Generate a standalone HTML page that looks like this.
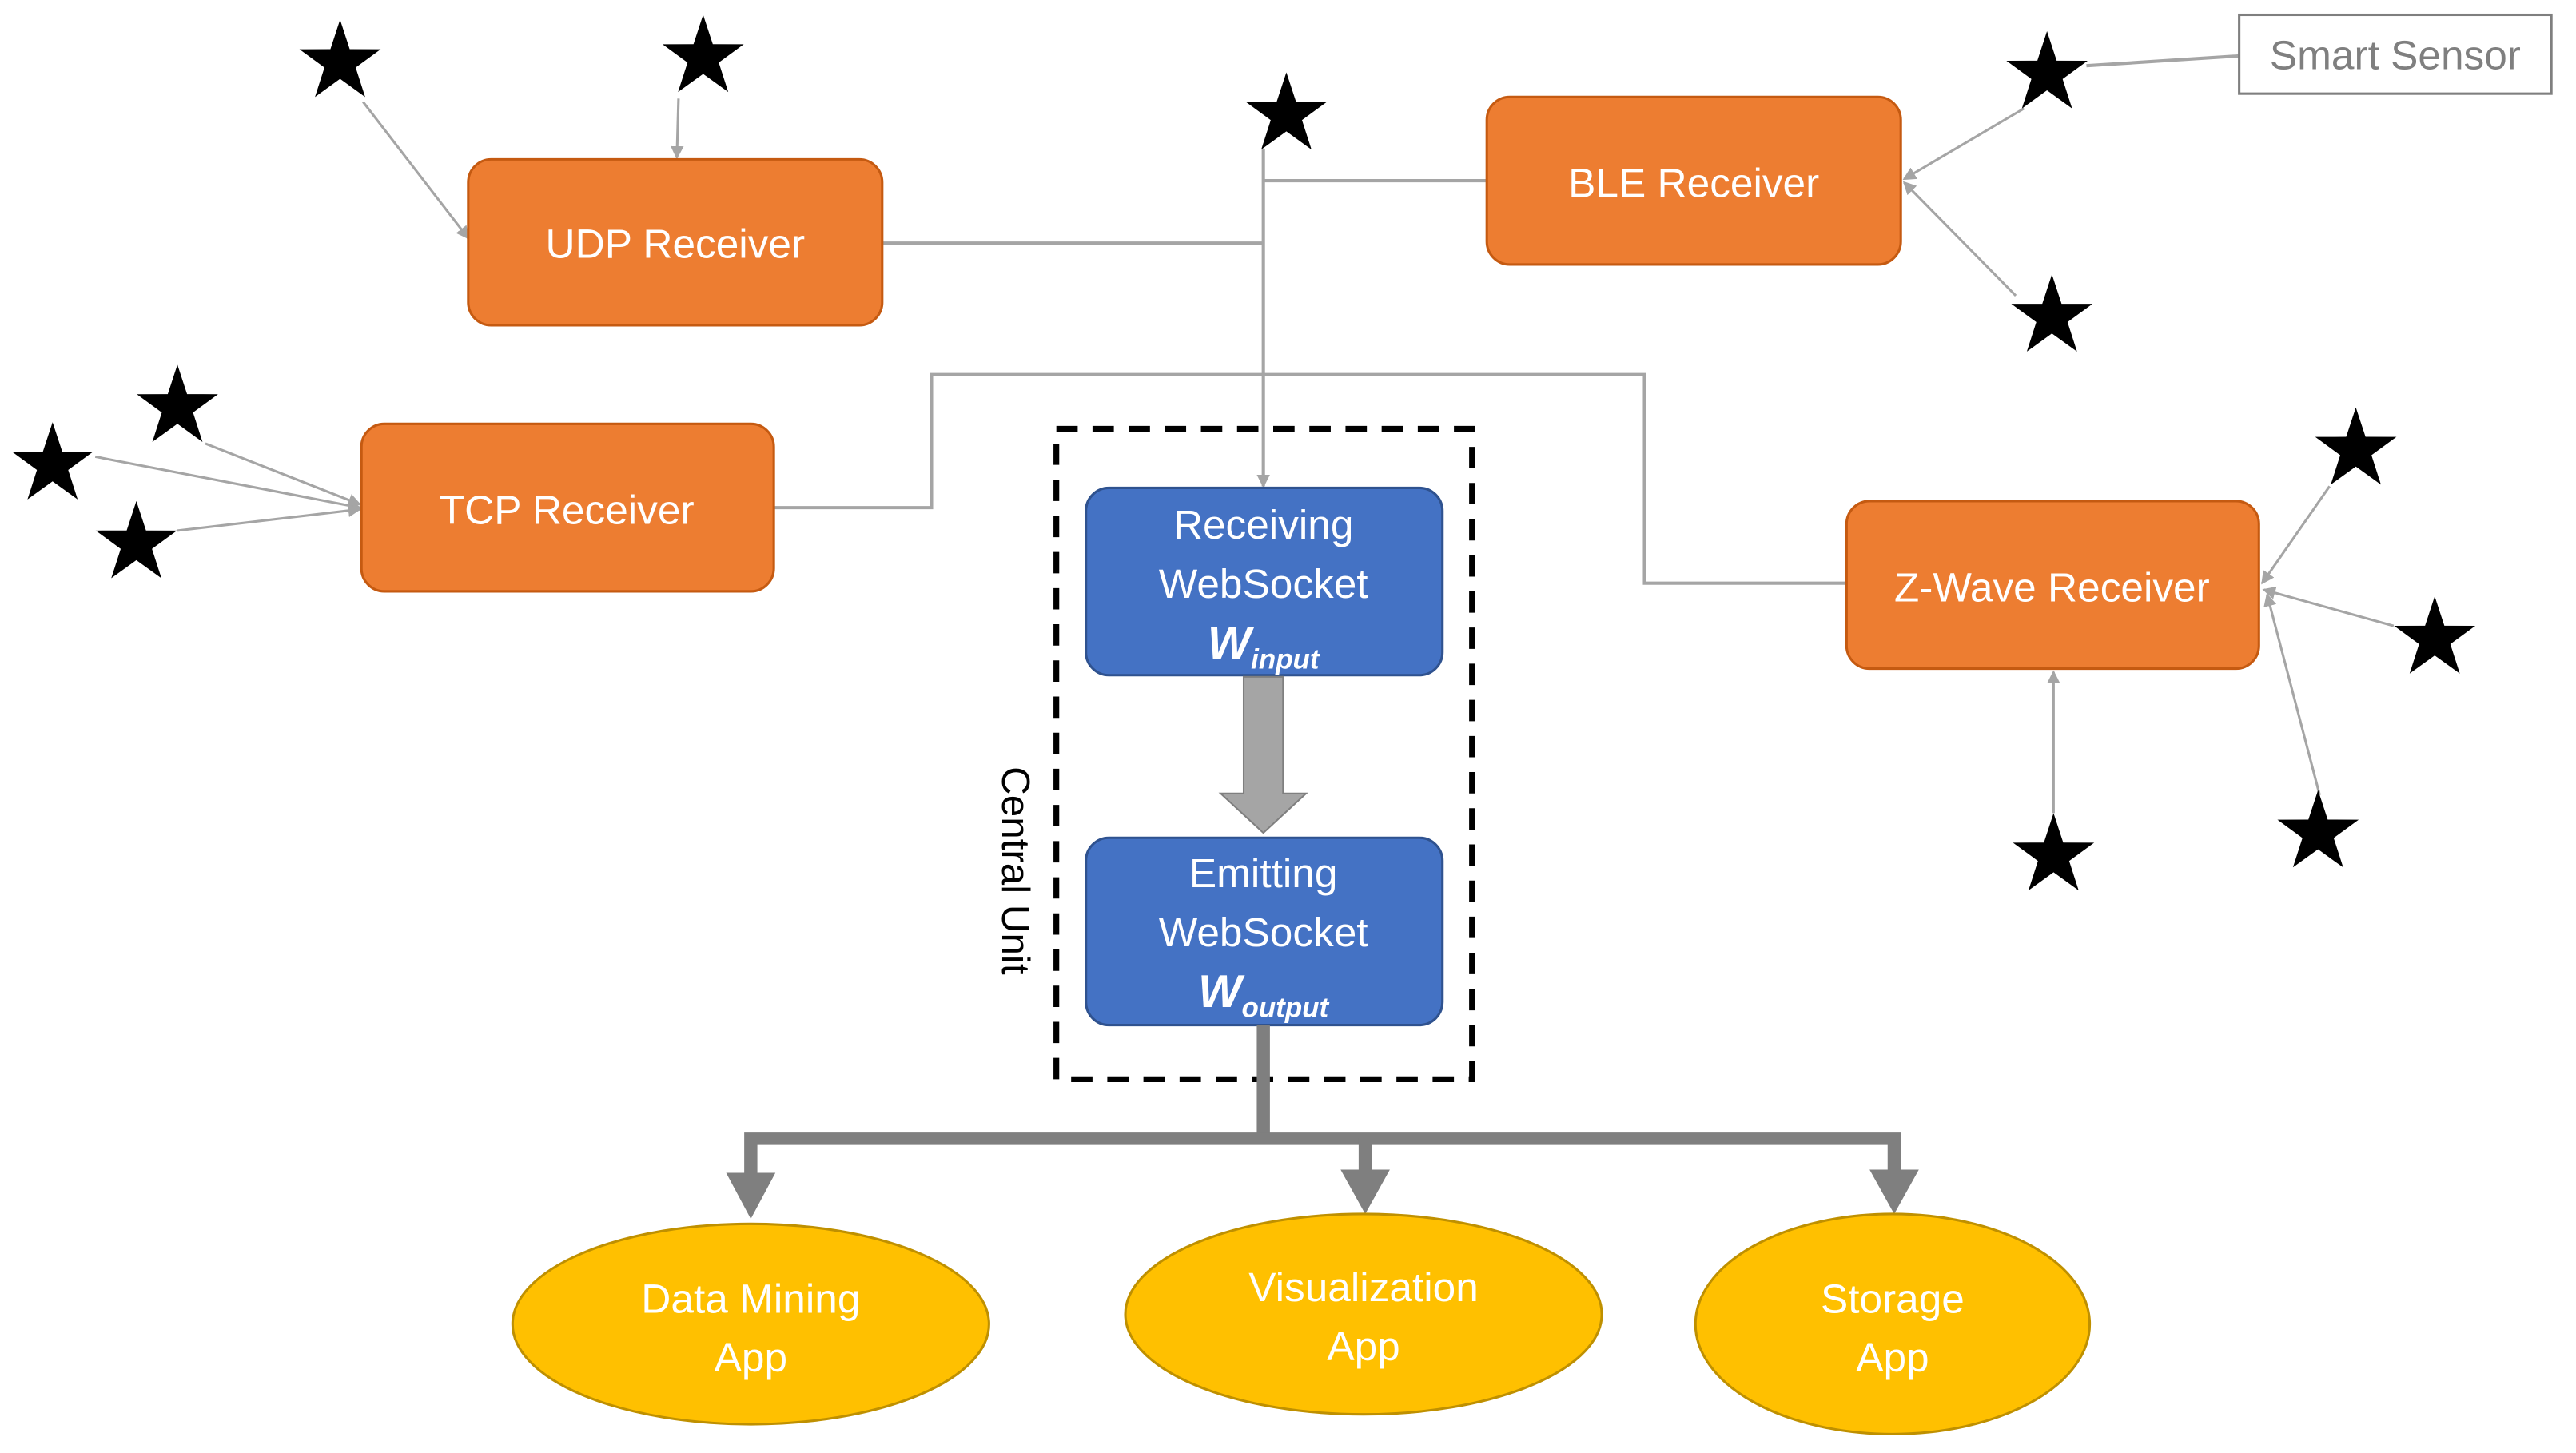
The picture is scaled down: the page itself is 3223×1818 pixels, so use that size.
<!DOCTYPE html>
<html><head><meta charset="utf-8"><style>
html,body{margin:0;padding:0;background:#fff;}
svg{display:block;}
text{font-family:"Liberation Sans",sans-serif;}
</style></head><body>
<svg width="3223" height="1818" viewBox="0 0 1568 884.5" preserveAspectRatio="none" xmlns="http://www.w3.org/2000/svg">
<defs>
<polygon id="s" points="0,-26 5.88,-8.09 24.73,-8.03 9.51,3.09 15.28,21.03 0,10 -15.28,21.03 -9.51,3.09 -24.73,-8.03 -5.88,-8.09" fill="#000"/>
<marker id="a" markerWidth="8" markerHeight="8" refX="7" refY="4" orient="auto" markerUnits="userSpaceOnUse"><path d="M0,0 L8,4 L0,8 z" fill="#a5a5a5"/></marker>
</defs>
<rect width="1570" height="890" fill="#fff"/>
<g stroke="#a5a5a5" stroke-width="2" fill="none">
<polyline points="537,148 769,148"/>
<polyline points="905,110 769,110"/>
<line x1="769" y1="91" x2="769" y2="296" marker-end="url(#a)"/>
<polyline points="471,309 567,309 567,228 1001,228 1001,355 1124,355"/>
<line x1="1363" y1="34" x2="1270" y2="40"/>
</g>
<g stroke="#a5a5a5" stroke-width="1.5" fill="none" marker-end="url(#a)">
<line x1="221" y1="62" x2="285" y2="145"/>
<line x1="413" y1="60" x2="412" y2="96"/>
<line x1="1232" y1="66" x2="1159" y2="109"/>
<line x1="1227" y1="180" x2="1159" y2="111"/>
<line x1="58" y1="278" x2="219" y2="309"/>
<line x1="125" y1="270" x2="219" y2="307"/>
<line x1="108" y1="323" x2="219" y2="310"/>
<line x1="1418" y1="296" x2="1377" y2="355"/>
<line x1="1457" y1="381" x2="1378" y2="359"/>
<line x1="1412" y1="484" x2="1380" y2="362"/>
<line x1="1250" y1="495" x2="1250" y2="409"/>
</g>
<g>
<use href="#s" x="207" y="38"/><use href="#s" x="428" y="35"/><use href="#s" x="783" y="70"/>
<use href="#s" x="1246" y="45"/><use href="#s" x="1249" y="193"/><use href="#s" x="108" y="248"/>
<use href="#s" x="32" y="283"/><use href="#s" x="83" y="331"/><use href="#s" x="1434" y="274"/>
<use href="#s" x="1482" y="389"/><use href="#s" x="1411" y="507"/><use href="#s" x="1250" y="521"/>
</g>
<rect x="1363" y="9" width="190" height="48" fill="#fff" stroke="#7f7f7f" stroke-width="1.5"/>
<text x="1458" y="42" font-size="25" fill="#7f7f7f" text-anchor="middle">Smart Sensor</text>
<g fill="#ed7d31" stroke="#c55a11" stroke-width="1.5">
<rect x="285" y="97" width="252" height="101" rx="14"/>
<rect x="905" y="59" width="252" height="102" rx="14"/>
<rect x="220" y="258" width="251" height="102" rx="14"/>
<rect x="1124" y="305" width="251" height="102" rx="14"/>
</g>
<g fill="#fff" font-size="25" text-anchor="middle">
<text x="411" y="157">UDP Receiver</text>
<text x="1031" y="120">BLE Receiver</text>
<text x="345" y="319">TCP Receiver</text>
<text x="1249" y="366">Z-Wave Receiver</text>
</g>
<rect x="643" y="261" width="253" height="396" fill="none" stroke="#000" stroke-width="3.5" stroke-dasharray="13,9"/>
<text transform="translate(610,530) rotate(90)" font-size="24" text-anchor="middle" fill="#000">Central Unit</text>
<g fill="#4472c4" stroke="#2f528f" stroke-width="1.5">
<rect x="661" y="297" width="217" height="114" rx="14"/>
<rect x="661" y="510" width="217" height="114" rx="14"/>
</g>
<g fill="#fff" font-size="25" text-anchor="middle">
<text x="769" y="328">Receiving</text>
<text x="769" y="364">WebSocket</text>
<text x="769" y="401"><tspan font-weight="bold" font-style="italic" font-size="28">W</tspan><tspan font-weight="bold" font-style="italic" font-size="17" dy="6">input</tspan></text>
<text x="769" y="540">Emitting</text>
<text x="769" y="576">WebSocket</text>
<text x="769" y="613"><tspan font-weight="bold" font-style="italic" font-size="28">W</tspan><tspan font-weight="bold" font-style="italic" font-size="17" dy="6">output</tspan></text>
</g>
<path d="M757,412 L781,412 L781,483 L795,483 L769,507 L743,483 L757,483 z" fill="#a5a5a5" stroke="#7f7f7f" stroke-width="1"/>
<g stroke="#7f7f7f" stroke-width="8" fill="none">
<polyline points="769,624 769,693"/>
<polyline points="457,718 457,693 1153,693 1153,716"/>
<line x1="831" y1="693" x2="831" y2="716"/>
</g>
<g fill="#7f7f7f">
<path d="M442,714 L472,714 L457,742 z"/>
<path d="M816,712 L846,712 L831,739 z"/>
<path d="M1138,712 L1168,712 L1153,739 z"/>
</g>
<g fill="#ffc000" stroke="#bf9000" stroke-width="1.5">
<ellipse cx="457" cy="806" rx="145" ry="61"/>
<ellipse cx="830" cy="800" rx="145" ry="61"/>
<ellipse cx="1152" cy="806" rx="120" ry="67"/>
</g>
<g fill="#fff" font-size="25" text-anchor="middle">
<text x="457" y="799">Data Mining</text><text x="457" y="835">App</text>
<text x="830" y="792">Visualization</text><text x="830" y="828">App</text>
<text x="1152" y="799">Storage</text><text x="1152" y="835">App</text>
</g>
</svg>
</body></html>
